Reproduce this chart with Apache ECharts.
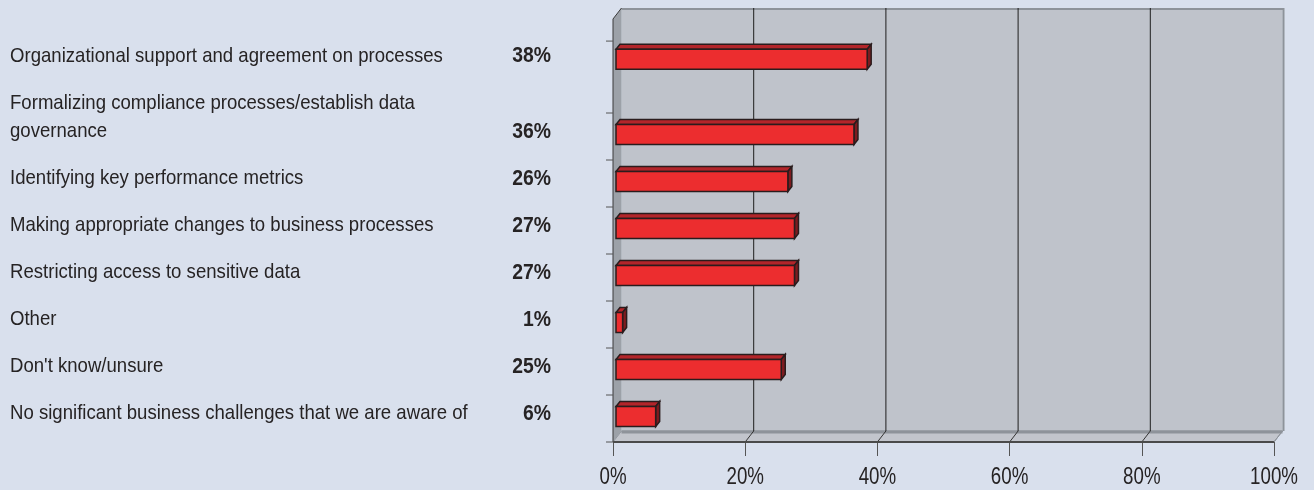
<!DOCTYPE html>
<html>
<head>
<meta charset="utf-8">
<script src="https://cdn.jsdelivr.net/npm/echarts@6/dist/echarts.min.js"></script>
<style>
html,body{margin:0;padding:0;background:#d9e0ed;}
#chart{width:1314px;height:490px;}
</style>
</head>
<body>
<div id="chart"></div>
<script>
// ---- data ----
const categories = [
  'Organizational support and agreement on processes',
  'Formalizing compliance processes/establish data\ngovernance',
  'Identifying key performance metrics',
  'Making appropriate changes to business processes',
  'Restricting access to sensitive data',
  'Other',
  "Don't know/unsure",
  'No significant business challenges that we are aware of'
];
const values = [38, 36, 26, 27, 27, 1, 25, 6];
const xTickValues = [0, 20, 40, 60, 80, 100];
const xTickLabels = ['0%', '20%', '40%', '60%', '80%', '100%'];

// ---- layout (row slots on hidden y scale) ----
const rowPos = [8.1, 6.5, 5.5, 4.5, 3.5, 2.5, 1.5, 0.5];
const rowTicks = [0, 1, 2, 3, 4, 5, 6, 7, 8.53];
const Y_MAX = 9, X_MAX = 100;
const DX = 8.5, DY = -11;            // 3D depth of the plot box
const FONT = '"Liberation Sans",Arial,sans-serif';
const TEXT_COLOR = '#262324';

const chart = echarts.init(document.getElementById('chart'), null, {renderer: 'canvas'});

function ntext(str, x, y, font, align, sx) {
  return {type: 'text', x: x, y: y, scaleX: sx, scaleY: 1,
    style: {text: str, x: 0, y: 0, fill: TEXT_COLOR, font: font, align: align, verticalAlign: 'middle'}};
}

function renderFrame(params, api) {
  const p00 = api.coord([0, 0]);
  const p10 = api.coord([X_MAX, 0]);
  const p01 = api.coord([0, Y_MAX]);
  const children = [];
  const x0 = p00[0], x1 = p10[0], yb = p00[1], yt = p01[1];
  // back wall
  children.push({type: 'rect', shape: {x: x0 + DX, y: yt + DY, width: x1 - x0, height: yb - yt},
    style: {fill: '#bfc3cb', stroke: null}});
  children.push({type: 'polyline', shape: {points: [[x0 + DX, yt + DY + 1], [x1 + DX + 1, yt + DY + 1], [x1 + DX + 1, yb + DY]]},
    style: {stroke: '#8e939a', lineWidth: 2, fill: null}});
  // floor
  children.push({type: 'polygon', shape: {points: [[x0, yb], [x1, yb], [x1 + DX, yb + DY], [x0 + DX, yb + DY]]},
    style: {fill: '#c2c5cc', stroke: '#8e939a', lineWidth: 1}});
  children.push({type: 'line', shape: {x1: x0 + DX, y1: yb + DY + 1, x2: x1 + DX, y2: yb + DY + 1},
    style: {stroke: '#8e939a', lineWidth: 3}});
  // left wall
  children.push({type: 'polygon', shape: {points: [[x0, yt], [x0 + DX, yt + DY], [x0 + DX, yb + DY], [x0, yb]]},
    style: {fill: '#9ca1a8', stroke: null}});
  children.push({type: 'polyline', shape: {points: [[x0 + DX, yt + DY], [x0, yt], [x0, yb]]},
    style: {stroke: '#3a3a3a', lineWidth: 1, fill: null}});
  // grid lines on back wall + diagonal on floor, and tick labels
  xTickValues.forEach(function (v, i) {
    const p = api.coord([v, 0]);
    if (v > 0 && v < X_MAX) {
      children.push({type: 'line', shape: {x1: p[0] + DX, y1: yt + DY, x2: p[0] + DX, y2: yb + DY},
        style: {stroke: '#1e1e1e', lineWidth: 1}});
      children.push({type: 'line', shape: {x1: p[0] + DX, y1: yb + DY, x2: p[0], y2: yb},
        style: {stroke: '#333', lineWidth: 1}});
    }
    children.push(ntext(xTickLabels[i], p[0], yb + 35, '24px ' + FONT, 'center', 0.78));
  });
  // left y ticks
  rowTicks.forEach(function (t) {
    const p = api.coord([0, t]);
    children.push({type: 'line', shape: {x1: x0 - 7, y1: p[1], x2: x0, y2: p[1]},
      style: {stroke: '#555', lineWidth: 1}});
  });
  // front axis line
  children.push({type: 'line', shape: {x1: x0, y1: yb, x2: x1, y2: yb},
    style: {stroke: '#4a4a4a', lineWidth: 2}});
  children.push({type: 'line', shape: {x1: x1, y1: yb, x2: x1 + DX, y2: yb + DY},
    style: {stroke: '#8e939a', lineWidth: 1}});
  return {type: 'group', children: children};
}

function renderBar(params, api) {
  const idx = params.dataIndex;
  const v = api.value(0);
  const pos = api.value(1);
  const a = api.coord([0, pos]);
  const b = api.coord([v, pos]);
  const ox = 3, oy = -2, h = 10, dx = 4, dy = -5;
  const xa = a[0] + ox, xb = b[0] + ox, c = a[1] + oy;
  const stroke = '#2a1c1d';
  const children = [
    {type: 'polygon', shape: {points: [[xa, c - h], [xb, c - h], [xb + dx, c - h + dy], [xa + dx, c - h + dy]]},
      style: {fill: '#b3252a', stroke: stroke, lineWidth: 1.5}},
    {type: 'polygon', shape: {points: [[xb, c - h], [xb + dx, c - h + dy], [xb + dx, c + h + dy], [xb, c + h]]},
      style: {fill: '#7e1b1f', stroke: stroke, lineWidth: 1.5}},
    {type: 'rect', shape: {x: xa, y: c - h, width: xb - xa, height: 2 * h},
      style: {fill: '#ec2d2f', stroke: stroke, lineWidth: 1.5}}
  ];
  const lines = categories[idx].split('\n');
  const ty = a[1] - 5;
  lines.forEach(function (ln, i) {
    children.push(ntext(ln, 10, ty - (lines.length - 1 - i) * 28, '21px ' + FONT, 'left', 0.885));
  });
  children.push(ntext(values[idx] + '%', 551, ty, 'bold 22px ' + FONT, 'right', 0.88));
  return {type: 'group', children: children};
}

const option = {
  backgroundColor: '#d9e0ed',
  animation: false,
  grid: {left: 613, right: 40, top: 19, bottom: 48, containLabel: false},
  xAxis: {
    type: 'value', min: 0, max: X_MAX, interval: 20,
    axisLine: {show: false},
    axisTick: {show: true, length: 14, lineStyle: {color: '#555', width: 1}},
    splitLine: {show: false},
    axisLabel: {show: false}
  },
  yAxis: {type: 'value', min: 0, max: Y_MAX, show: false},
  series: [
    {type: 'custom', renderItem: renderFrame, data: [[0, 0]], clip: false, silent: true, z: 1},
    {type: 'custom', renderItem: renderBar, clip: false, z: 2,
      encode: {x: 0, y: 1},
      data: values.map(function (v, i) { return [v, rowPos[i]]; })}
  ]
};
chart.setOption(option);
</script>
</body>
</html>
